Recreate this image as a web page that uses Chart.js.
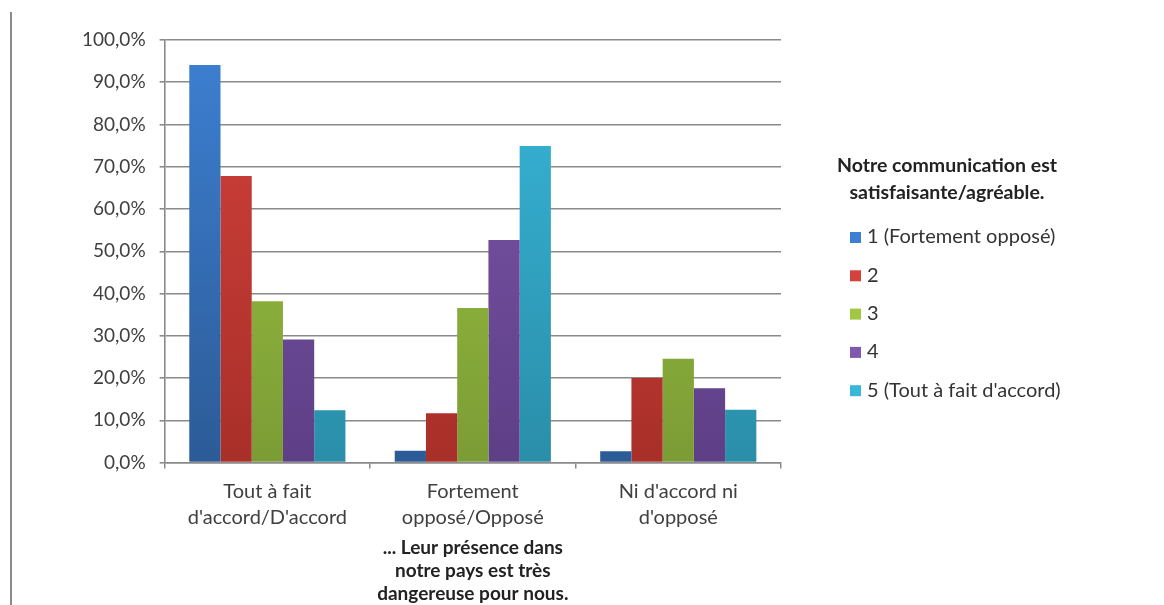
<!DOCTYPE html>
<html>
<head>
<meta charset="utf-8">
<script src="https://cdn.jsdelivr.net/npm/chart.js@4"></script>
<style>
  body { margin: 0; background: #fff; }
  .cadre { position: relative; width: 1164px; height: 605px; }
  .bord { position: absolute; left: 10px; top: 12px; width: 2px; height: 593px; background: #8a8a8a; }
</style>
</head>
<body>
<div class="cadre">
  <div class="bord"></div>
  <canvas id="graphique" width="1164" height="605"></canvas>
</div>
<script>
var categories = [["Tout à fait", "d'accord/D'accord"], ["Fortement", "opposé/Opposé"], ["Ni d'accord ni", "d'opposé"]];
var nomsSeries = ["1 (Fortement opposé)", "2", "3", "4", "5 (Tout à fait d'accord)"];
var serie1 = [94.1, 2.8, 2.7];
var serie2 = [67.8, 11.7, 20.0];
var serie3 = [38.2, 36.6, 24.6];
var serie4 = [29.1, 52.7, 17.6];
var serie5 = [12.4, 74.9, 12.5];
var titreLegende = ["Notre communication est", "satisfaisante/agréable."];
var titreAxeX = ["... Leur présence dans", "notre pays est très", "dangereuse pour nous."];

// couleurs haut / bas du degrade
var couleurs = [
  ["#3d80d2", "#2c5b97"],
  ["#d3423b", "#a92f29"],
  ["#a0c843", "#7b9c35"],
  ["#8058ae", "#5d3f86"],
  ["#38b7da", "#2a8ea9"]
];

function degrade(i) {
  return function(context) {
    var area = context.chart.chartArea;
    if (!area) {
      return couleurs[i][0];
    }
    var g = context.chart.ctx.createLinearGradient(0, area.top, 0, area.bottom);
    g.addColorStop(0, couleurs[i][0]);
    g.addColorStop(1, couleurs[i][1]);
    return g;
  };
}

// legende dessinee a la main pour la placer comme dans Excel
var legendeExcel = {
  id: 'legendeExcel',
  afterDraw: function(chart) {
    var ctx = chart.ctx;
    ctx.save();
    ctx.fillStyle = '#222';
    ctx.font = 'bold 19.5px Lato';
    ctx.textAlign = 'center';
    ctx.textBaseline = 'middle';
    for (var t = 0; t < titreLegende.length; t++) {
      ctx.fillText(titreLegende[t], 947, 166 + t * 27);
    }
    ctx.textAlign = 'left';
    ctx.font = '20px Lato';
    var ds = chart.data.datasets;
    for (var i = 0; i < ds.length; i++) {
      var y = 237 + i * 38.3;
      ctx.fillStyle = couleurs[i][0];
      ctx.fillRect(850, y - 5, 11, 11);
      ctx.fillStyle = '#333';
      ctx.fillText(ds[i].label, 867, y);
    }
    ctx.restore();
  }
};

function getDatasets() {
  var valeurs = [serie1, serie2, serie3, serie4, serie5];
  var datasets = [];
  for (var i = 0; i < valeurs.length; i++) {
    datasets.push({
      label: nomsSeries[i],
      data: valeurs[i],
      backgroundColor: degrade(i),
      borderWidth: 0
    });
  }
  return datasets;
}

function init() {
  var ctx = document.getElementById('graphique').getContext('2d');
  var myChart = new Chart(ctx, {
    type: 'bar',
    data: {
      labels: categories,
      datasets: getDatasets()
    },
    options: {
      responsive: false,
      animation: false,
      layout: { padding: { left: 68, right: 383, top: 40, bottom: 0 } },
      datasets: { bar: { categoryPercentage: 0.76, barPercentage: 1 } },
      plugins: {
        legend: { display: false },
        tooltip: { enabled: false }
      },
      scales: {
        x: {
          grid: { display: true, drawOnChartArea: false, drawTicks: true, tickLength: 6, offset: true, color: '#8a8a8a', lineWidth: 1.5 },
          border: { color: '#8a8a8a', width: 1.5 },
          ticks: { color: '#404040', font: { family: 'Lato', size: 20, lineHeight: 1.3 }, padding: 10, maxRotation: 0 },
          title: {
            display: true,
            text: titreAxeX,
            color: '#222',
            font: { family: 'Lato', size: 19, weight: 'bold', lineHeight: 1.2 },
            padding: { top: -4, bottom: 0 }
          }
        },
        y: {
          min: 0,
          max: 100,
          ticks: {
            stepSize: 10,
            color: '#404040',
            font: { family: 'Lato', size: 19 },
            padding: 14,
            callback: function(v) { return v.toFixed(1).replace('.', ',') + '%'; }
          },
          grid: { color: '#8a8a8a', lineWidth: 1.6, tickLength: 5 },
          border: { color: '#8a8a8a', width: 1.6 }
        }
      }
    },
    plugins: [legendeExcel]
  });
}

init();
</script>
</body>
</html>
